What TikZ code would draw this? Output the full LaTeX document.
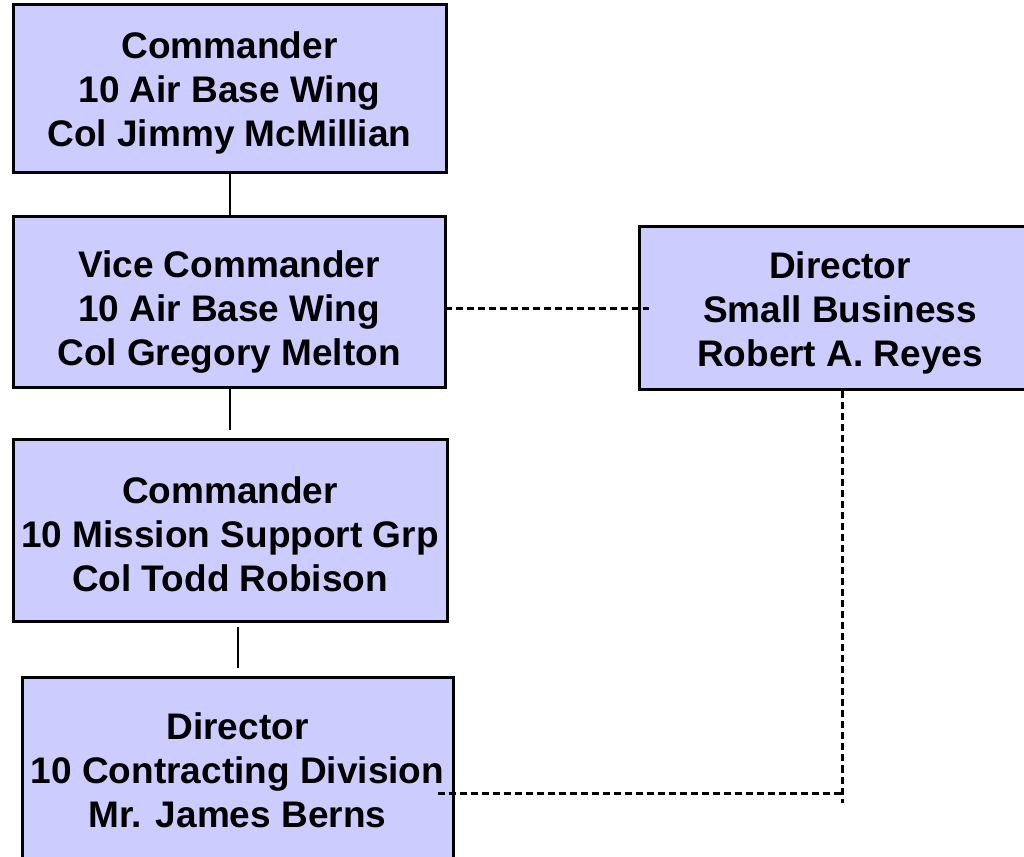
\documentclass[tikz,border=0pt]{standalone}
\usepackage{fontspec}
\setmainfont{Liberation Sans}
\definecolor{boxfill}{HTML}{CCCCFF}
\begin{document}
\begin{tikzpicture}[x=1pt,y=1pt,
  orgbox/.style={draw=black, fill=boxfill, line width=3pt, rectangle, inner sep=0pt},
  orgtext/.style={inner sep=0pt, align=center, font=\fontsize{37}{44}\selectfont\bfseries},
  solidlink/.style={line width=2.8pt},
  dashlink/.style={line width=3pt, dash pattern=on 7pt off 4pt}]
\useasboundingbox (0,0) rectangle (1024,856);
\node[orgbox, minimum width=433, minimum height=168] (b1) at (229.5,767) {};
\node[orgbox, minimum width=432, minimum height=171] (b2) at (229,553.5) {};
\node[orgbox, minimum width=434, minimum height=182] (b3) at (230,325) {};
\node[orgbox, minimum width=431, minimum height=184] (b4) at (237.5,86) {};
\node[orgbox, minimum width=402, minimum height=163] (b5) at (840,547.5) {};
\node[orgtext] (t1) at ([yshift=-4pt]b1.center) {Commander\\10 Air Base Wing\\Col Jimmy McMillian};
\node[orgtext] (t2) at ([yshift=-10pt]b2.center) {Vice Commander\\10 Air Base Wing\\Col Gregory Melton};
\node[orgtext] (t3) at ([yshift=-3pt]b3.center) {Commander\\10 Mission Support Grp\\Col Todd Robison};
\node[orgtext] (t4) at (b4.center) {Director\\10 Contracting Division\\Mr. James Berns};
\node[orgtext] (t5) at ([yshift=-4pt]b5.center) {Director\\Small Business\\Robert A. Reyes};
\coordinate (corner) at (842,63);
\draw[solidlink] ([xshift=0.5pt]b1.south) -- ([xshift=1pt]b2.north);
\draw[solidlink, shorten >=8pt] ([xshift=1pt]b2.south) -- ([xshift=0pt]b3.north);
\draw[solidlink, shorten <=4pt, shorten >=8pt] ([xshift=8pt]b3.south) -- ([xshift=0.5pt]b4.north);
\draw[dashlink] ([xshift=-2pt]b2.east |- b5.west) -- ([xshift=11pt]b5.west);
\draw[dashlink] (b5.south -| corner) -- ([yshift=-10pt]corner);
\draw[dashlink] ([xshift=-17pt]b4.east |- corner) -- (corner);
\end{tikzpicture}
\end{document}
